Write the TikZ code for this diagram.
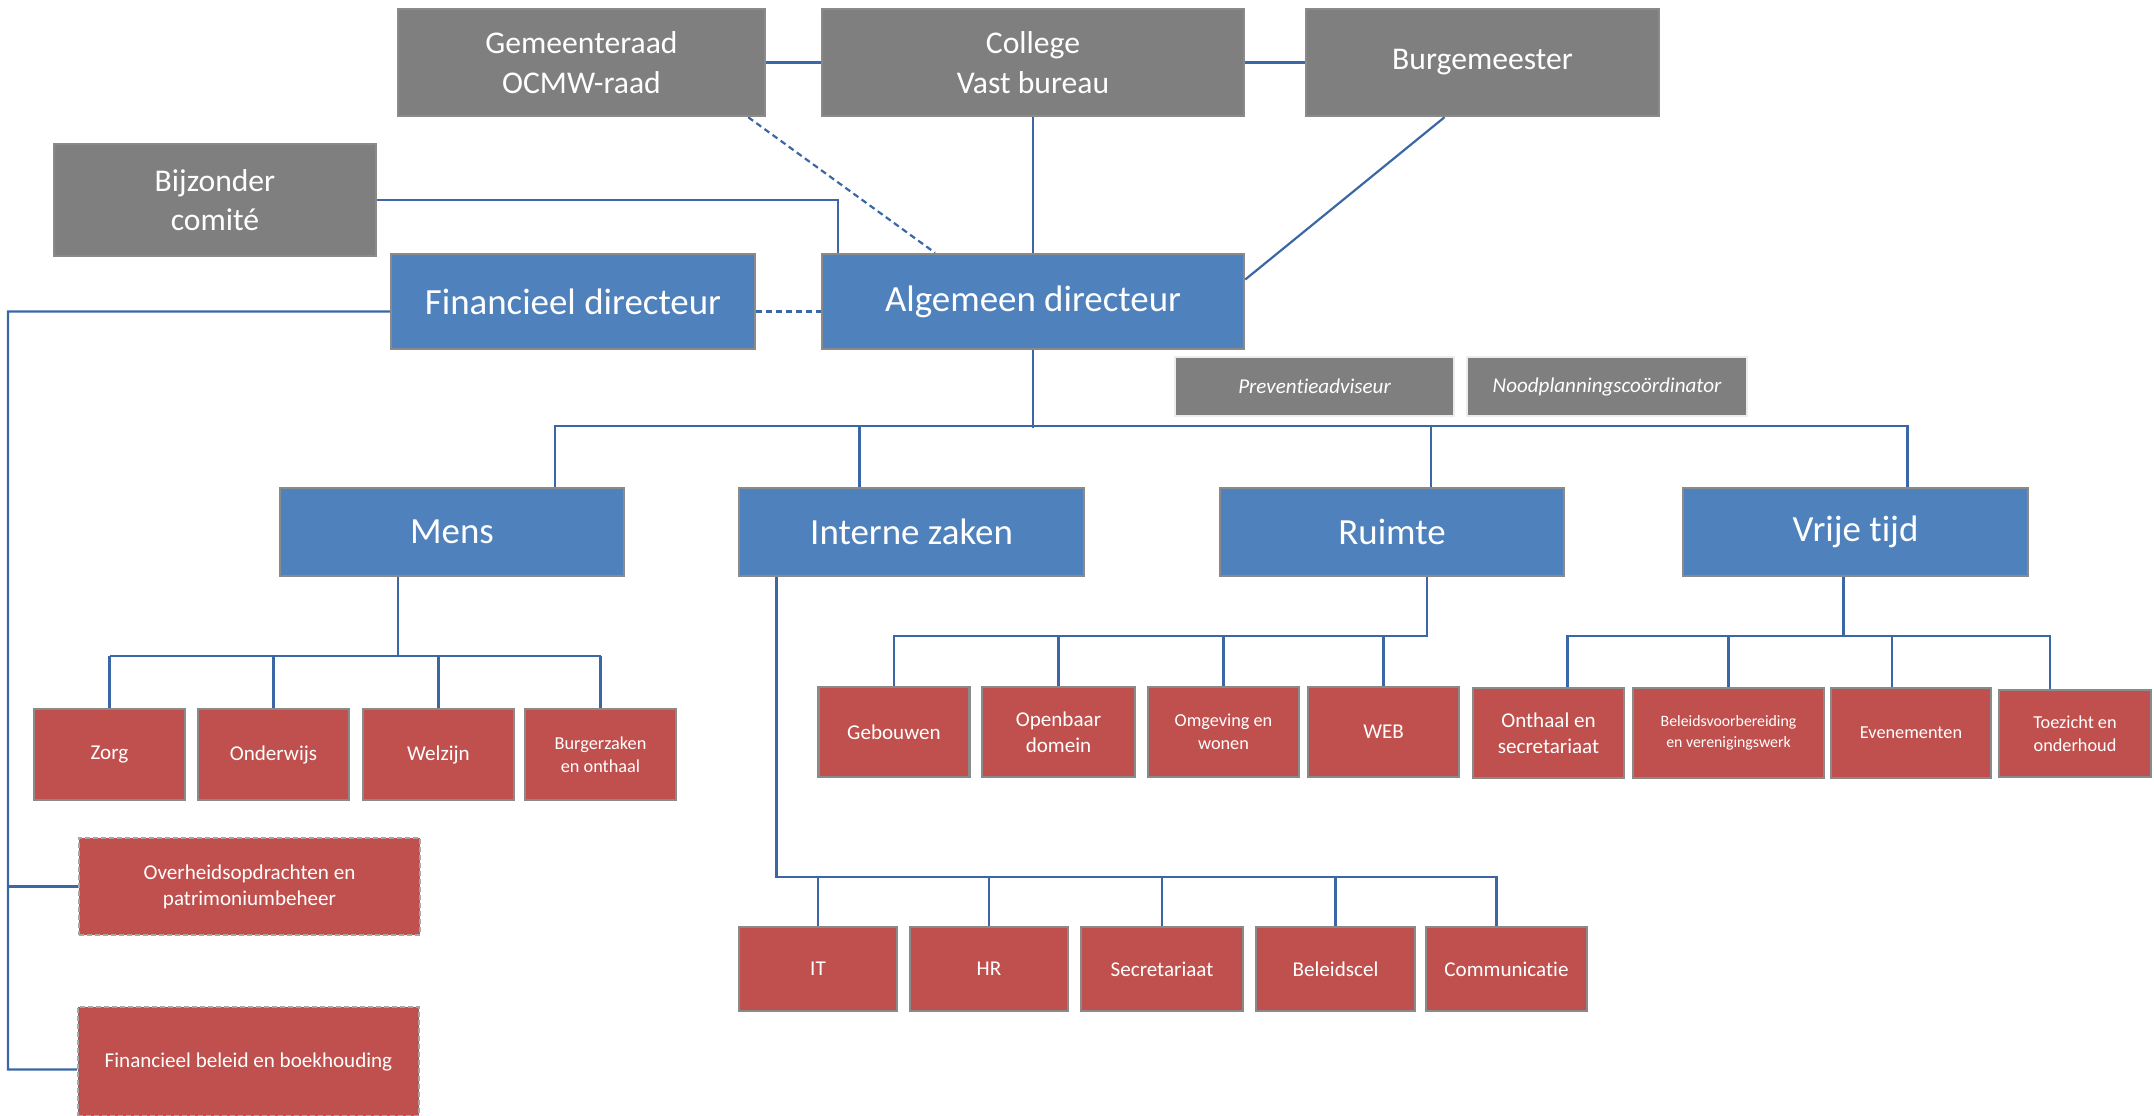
\documentclass[tikz,border=0pt]{standalone}
\usepackage{fontspec}
\setmainfont{Carlito}[Ligatures=NoCommon]
\usepackage{tikz}
\definecolor{vakgrijs}{HTML}{7F7F7F}
\definecolor{vakblauw}{HTML}{4F81BD}
\definecolor{vakrood}{HTML}{C0504D}
\definecolor{randgrijs}{HTML}{8A8A8A}
\definecolor{lijnblauw}{HTML}{3B67A6}

\begin{document}
\begin{tikzpicture}[x=0.1mm,y=-0.1mm,
  vak/.style={draw=randgrijs,line width=0.25mm,text=white,align=center,inner sep=0pt},
  bestuur/.style={vak,fill=vakgrijs,font=\fontsize{9}{11.2}\selectfont},
  directie/.style={vak,fill=vakblauw,font=\fontsize{10.5}{12.5}\selectfont},
  staf/.style={vak,fill=vakgrijs,draw=white!85!gray,minimum height=5.9mm,font=\fontsize{6}{7.4}\selectfont\itshape},
  dienst/.style={vak,fill=vakrood,minimum width=15.1mm,minimum height=9.1mm,font=\fontsize{6}{7.4}\selectfont},
  klein/.style={font=\fontsize{5.2}{6.5}\selectfont},
  stippelvak/.style={dienst,draw=gray!70,line width=0.2mm,dash pattern=on 0.5mm off 0.3mm,minimum width=34.1mm},
  lijn/.style={draw=lijnblauw,line width=0.22mm}]
\useasboundingbox (0,0) rectangle (2154,1116);

\node[bestuur,minimum width=36.7mm,minimum height=10.7mm] (raad) at (581.5,62.5) {Gemeenteraad\\OCMW-raad};
\node[bestuur,minimum width=42.2mm,minimum height=10.7mm] (college) at (1033,62.5) {College\\Vast bureau};
\node[bestuur,minimum width=35.3mm,minimum height=10.7mm] (burg) at (1482.5,62.5) {Burgemeester};
\node[bestuur,minimum width=32.2mm,minimum height=11.2mm] (comite) at (215,200) {Bijzonder\\comité};
\node[directie,minimum width=36.4mm,minimum height=9.5mm] (fin) at (573,301.5) {Financieel directeur};
\node[directie,minimum width=42.2mm,minimum height=9.5mm] (alg) at (1033,301.5) {Algemeen directeur};
\node[staf,minimum width=27.9mm] (prev) at (1314.5,386.5) {Preventieadviseur};
\node[staf,minimum width=28mm] (nood) at (1607,386.5) {Noodplanningscoördinator};

\node[directie,minimum width=34.4mm,minimum height=8.8mm] (mens) at (452,532) {Mens};
\node[directie,minimum width=34.5mm,minimum height=8.8mm] (intern) at (911.5,532) {Interne zaken};
\node[directie,minimum width=34.4mm,minimum height=8.8mm] (ruimte) at (1392,532) {Ruimte};
\node[directie,minimum width=34.5mm,minimum height=8.8mm] (vrije) at (1855.5,532) {Vrije tijd};

\node[dienst] (zorg) at (109.5,754.5) {Zorg};
\node[dienst] (onderwijs) at (273.5,754.5) {Onderwijs};
\node[dienst] (welzijn) at (438.5,754.5) {Welzijn};
\node[dienst,klein] (burger) at (600.5,754.5) {Burgerzaken\\en onthaal};

\node[dienst,minimum height=9mm] (gebouwen) at (894,732) {Gebouwen};
\node[dienst,minimum height=9mm,minimum width=15.3mm] (openbaar) at (1058.5,732) {Openbaar\\domein};
\node[dienst,minimum height=9mm,klein] (omgeving) at (1223.5,732) {Omgeving en\\wonen};
\node[dienst,minimum height=9mm] (web) at (1383.5,732) {WEB};

\node[dienst,minimum height=9mm] (onthaal) at (1548.5,733) {Onthaal en\\secretariaat};
\node[dienst,minimum height=9mm,minimum width=19.1mm,font=\fontsize{4.5}{6}\selectfont] (beleids) at (1728.5,733) {Beleidsvoorbereiding\\en verenigingswerk};
\node[dienst,minimum height=9mm,minimum width=16mm,klein] (evenementen) at (1911,733) {Evenementen};
\node[dienst,minimum height=8.7mm,minimum width=15.2mm,klein] (toezicht) at (2075,733.5) {Toezicht en\\onderhoud};

\node[stippelvak,minimum height=9.7mm] (overheid) at (249.5,886.5) {Overheidsopdrachten en\\patrimoniumbeheer};
\node[stippelvak,minimum height=10.9mm] (finbeleid) at (248.5,1061.5) {Financieel beleid en boekhouding};

\node[dienst,minimum width=15.8mm,minimum height=8.4mm] (it) at (818,969) {IT};
\node[dienst,minimum width=15.8mm,minimum height=8.4mm] (hr) at (989,969) {HR};
\node[dienst,minimum width=16.2mm,minimum height=8.4mm] (secr) at (1162,969) {Secretariaat};
\node[dienst,minimum width=15.9mm,minimum height=8.4mm] (beleidscel) at (1335.5,969) {Beleidscel};
\node[dienst,minimum width=16.1mm,minimum height=8.4mm] (comm) at (1506.5,969) {Communicatie};

\draw[lijn] (raad) -- (college);
\draw[lijn] (college) -- (burg);
\draw[lijn] (college) -- (alg);
\draw[lijn,dash pattern=on 0.6mm off 0.4mm] ([xshift=-1.8mm]raad.south east) -- ([xshift=-9.8mm]alg.north);
\draw[lijn] ([xshift=-3.8mm]burg.south) -- ([yshift=2.2mm]alg.east);
\draw[lijn] (comite.east) -| ([xshift=-19.5mm]alg.north);
\draw[lijn,dash pattern=on 0.6mm off 0.4mm] ([yshift=-1mm]fin.east) -- ([yshift=-1mm]alg.west);

\coordinate (rail) at (8,311.5);
\draw[lijn] ([yshift=-1mm]fin.west) -- (rail) |- ([yshift=-0.8mm]finbeleid.west);
\draw[lijn] (overheid.west) -- (overheid.west -| rail);

\draw[lijn] (alg.south) -- ++(0,78);
\draw[lijn] ([xshift=10.3mm]mens.north) -- ++(0,-61) -| ([xshift=5.2mm]vrije.north);
\draw[lijn] ([xshift=-5.2mm]intern.north) -- ++(0,-61);
\draw[lijn] ([xshift=3.9mm]ruimte.north) -- ++(0,-61);

\draw[lijn] ([xshift=-5.4mm]mens.south) -- ++(0,79) coordinate (m1);
\draw[lijn] (zorg.north |- m1) -- (burger.north |- m1);
\foreach \n in {zorg,onderwijs,welzijn,burger}
  \draw[lijn] (\n.north) -- (\n.north |- m1);

\draw[lijn] ([xshift=3.5mm]ruimte.south) -- ++(0,59) coordinate (r1) -| (gebouwen.north);
\foreach \n in {openbaar,omgeving,web}
  \draw[lijn] (\n.north) -- (\n.north |- r1);

\draw[lijn] ([xshift=-1.2mm]vrije.south) -- ++(0,59) coordinate (v1);
\draw[lijn] ([xshift=1.9mm]onthaal.north) |- (v1) -| ([xshift=-2.5mm]toezicht.north);
\draw[lijn] (beleids.north) -- (beleids.north |- v1);
\draw[lijn] ([xshift=-1.9mm]evenementen.north) -- ([xshift=-1.9mm]evenementen.north |- v1);

\draw[lijn] ([xshift=-13.5mm]intern.south) -- ++(0,300) coordinate (i1) -| ([xshift=-1mm]comm.north);
\foreach \n in {it,hr,secr,beleidscel}
  \draw[lijn] (\n.north) -- (\n.north |- i1);
\end{tikzpicture}
\end{document}
